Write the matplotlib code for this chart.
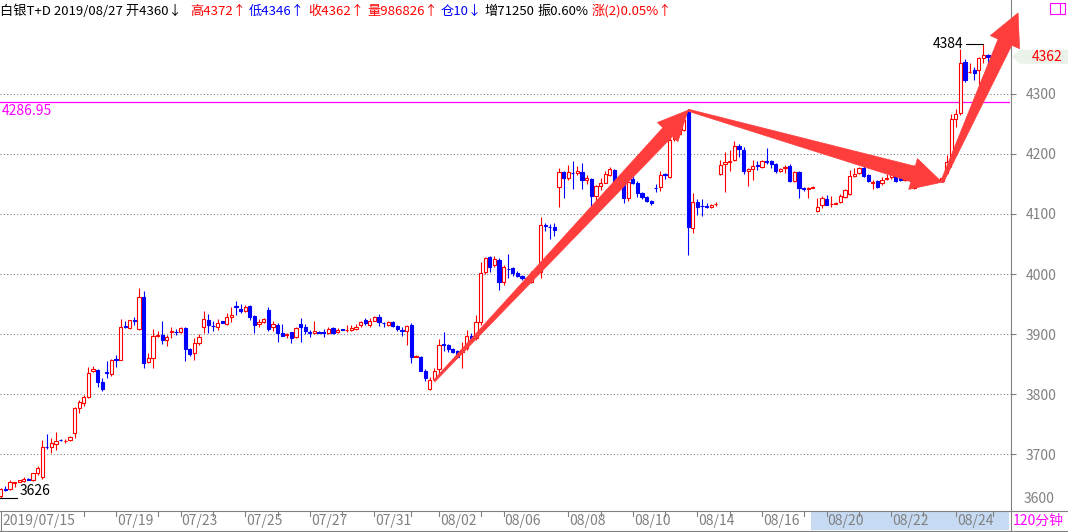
import numpy as np
import matplotlib.pyplot as plt
from matplotlib.patches import Polygon, Rectangle
from matplotlib.lines import Line2D
from matplotlib.transforms import IdentityTransform

plt.rcParams['font.family'] = ['Noto Sans CJK SC', 'DejaVu Sans']

# 120-minute bars, 白银T+D
opens = [3630, 3641, 3642, 3652, 3654, 3655, 3659, 3657, 3668, 3662,
         3712, 3712, 3717, 3724, 3721, 3723, 3735, 3777, 3785, 3795,
         3838, 3840, 3820, 3836, 3833, 3858, 3857, 3913, 3910, 3923,
         3908, 3962, 3853, 3860, 3897, 3898, 3890, 3904, 3904, 3903,
         3910, 3875, 3868, 3885, 3912, 3923, 3914, 3912, 3921, 3917,
         3928, 3946, 3941, 3938, 3947, 3930, 3917, 3920, 3940, 3912,
         3915, 3902, 3898, 3903, 3895, 3917, 3912, 3904, 3902, 3903,
         3903, 3902, 3910, 3903, 3908, 3906, 3907, 3908, 3915, 3923,
         3915, 3922, 3928, 3919, 3915, 3920, 3913, 3906, 3905, 3915,
         3862, 3862, 3838, 3808, 3825, 3842, 3883, 3882, 3875, 3872,
         3870, 3877, 3897, 3893, 3920, 4003, 4028, 4015, 4023, 3987,
         4009, 4010, 4002, 3997, 3994, 3987, 4001, 4003, 4081, 4079,
         4078, 4145, 4170, 4160, 4169, 4169, 4170, 4157, 4158, 4130,
         4147, 4152, 4165, 4173, 4155, 4152, 4127, 4158, 4152, 4135,
         4128, 4122, 4144, 4145, 4166, 4162, 4225, 4233, 4240, 4270,
         4077, 4120, 4114, 4113, 4112, 4116, 4167, 4183, 4187, 4190,
         4213, 4207, 4172, 4175, 4181, 4178, 4188, 4188, 4183, 4172,
         4177, 4180, 4155, 4170, 4143, 4142, 4144, 4105, 4115, 4125,
         4116, 4117, 4120, 4128, 4133, 4163, 4168, 4177, 4165, 4152,
         4155, 4152, 4159, 4162, 4163, 4162, 4157, 4159, 4143, 4175,
         4167, 4163, 4162, 4157, 4155, 4168, 4187, 4258, 4268, 4353,
         4336, 4340, 4340, 4360, 4365, 4360]
highs = [3643, 3646, 3657, 3654, 3657, 3661, 3660, 3669, 3680, 3723,
         3733, 3727, 3737, 3725, 3725, 3730, 3779, 3790, 3798, 3845,
         3847, 3841, 3827, 3855, 3858, 3865, 3925, 3922, 3924, 3928,
         3977, 3972, 3868, 3908, 3905, 3922, 3898, 3912, 3908, 3912,
         3911, 3876, 3893, 3900, 3938, 3933, 3922, 3925, 3922, 3935,
         3945, 3955, 3950, 3948, 3949, 3932, 3925, 3927, 3945, 3922,
         3918, 3917, 3902, 3903, 3911, 3927, 3917, 3907, 3922, 3905,
         3908, 3912, 3912, 3910, 3909, 3915, 3915, 3917, 3922, 3927,
         3927, 3930, 3933, 3920, 3921, 3921, 3915, 3912, 3915, 3918,
         3865, 3863, 3842, 3828, 3843, 3892, 3903, 3883, 3877, 3873,
         3887, 3907, 3902, 3932, 4020, 4028, 4030, 4030, 4027, 4015,
         4033, 4012, 4005, 3998, 3995, 4005, 4008, 4095, 4085, 4083,
         4085, 4177, 4172, 4182, 4188, 4180, 4185, 4165, 4160, 4148,
         4160, 4172, 4178, 4175, 4160, 4158, 4155, 4163, 4155, 4137,
         4130, 4123, 4150, 4172, 4168, 4243, 4240, 4245, 4262, 4273,
         4135, 4125, 4125, 4118, 4117, 4120, 4190, 4203, 4207, 4222,
         4217, 4212, 4177, 4190, 4188, 4190, 4210, 4190, 4185, 4177,
         4182, 4183, 4172, 4172, 4145, 4145, 4147, 4127, 4130, 4132,
         4130, 4120, 4133, 4142, 4173, 4177, 4178, 4182, 4167, 4157,
         4157, 4162, 4167, 4172, 4165, 4163, 4162, 4160, 4182, 4178,
         4168, 4165, 4163, 4158, 4162, 4198, 4267, 4275, 4375, 4358,
         4352, 4345, 4362, 4384, 4366, 4372]
lows = [3626, 3639, 3640, 3645, 3654, 3653, 3656, 3655, 3665, 3659,
        3709, 3702, 3707, 3721, 3719, 3721, 3727, 3768, 3780, 3793,
        3836, 3812, 3805, 3827, 3830, 3845, 3857, 3910, 3908, 3915,
        3907, 3843, 3852, 3843, 3895, 3883, 3880, 3893, 3898, 3902,
        3855, 3864, 3857, 3882, 3902, 3902, 3905, 3907, 3918, 3915,
        3920, 3932, 3935, 3937, 3923, 3902, 3912, 3918, 3905, 3905,
        3887, 3896, 3893, 3885, 3894, 3887, 3900, 3895, 3901, 3901,
        3895, 3900, 3900, 3902, 3906, 3903, 3905, 3906, 3912, 3915,
        3912, 3922, 3913, 3912, 3914, 3912, 3905, 3897, 3882, 3852,
        3861, 3838, 3822, 3807, 3822, 3833, 3872, 3870, 3868, 3860,
        3843, 3873, 3890, 3890, 3915, 4000, 4003, 4012, 3973, 3982,
        3993, 3997, 3995, 3990, 3991, 3985, 3998, 3993, 4072, 4058,
        4063, 4112, 4127, 4157, 4142, 4165, 4142, 4150, 4112, 4122,
        4140, 4151, 4163, 4138, 4140, 4118, 4122, 4150, 4128, 4125,
        4120, 4115, 4137, 4138, 4158, 4160, 4222, 4230, 4238, 4032,
        4068, 4098, 4097, 4110, 4110, 4113, 4165, 4137, 4172, 4188,
        4195, 4167, 4147, 4157, 4173, 4177, 4183, 4177, 4168, 4170,
        4168, 4153, 4153, 4127, 4138, 4127, 4143, 4103, 4110, 4115,
        4112, 4116, 4118, 4127, 4132, 4162, 4167, 4162, 4153, 4142,
        4143, 4148, 4157, 4158, 4153, 4155, 4155, 4155, 4142, 4165,
        4160, 4158, 4156, 4153, 4153, 4166, 4178, 4245, 4265, 4320,
        4335, 4323, 4315, 4352, 4345, 4346]
closes = [3641, 3640, 3653, 3653, 3656, 3659, 3657, 3668, 3677, 3712,
          3711, 3718, 3722, 3723, 3722, 3728, 3777, 3787, 3795, 3835,
          3841, 3820, 3808, 3835, 3857, 3857, 3912, 3912, 3923, 3922,
          3962, 3852, 3860, 3897, 3898, 3890, 3895, 3905, 3903, 3910,
          3875, 3867, 3885, 3895, 3925, 3915, 3913, 3918, 3919, 3928,
          3932, 3945, 3939, 3945, 3928, 3915, 3920, 3925, 3908, 3917,
          3902, 3897, 3900, 3893, 3910, 3912, 3905, 3902, 3905, 3902,
          3902, 3908, 3902, 3907, 3907, 3907, 3910, 3912, 3920, 3918,
          3922, 3928, 3920, 3918, 3920, 3913, 3908, 3905, 3913, 3862,
          3864, 3838, 3827, 3823, 3838, 3882, 3882, 3875, 3870, 3862,
          3873, 3897, 3892, 3920, 4002, 4027, 4012, 4025, 3987, 4012,
          4008, 4002, 3997, 3993, 3992, 4002, 4004, 4082, 4080, 4078,
          4073, 4170, 4160, 4170, 4168, 4171, 4157, 4160, 4130, 4147,
          4152, 4167, 4175, 4145, 4145, 4127, 4153, 4152, 4135, 4128,
          4122, 4118, 4143, 4165, 4165, 4223, 4235, 4240, 4257, 4078,
          4120, 4112, 4113, 4112, 4115, 4117, 4182, 4187, 4188, 4213,
          4208, 4172, 4175, 4180, 4180, 4188, 4187, 4183, 4172, 4175,
          4178, 4155, 4170, 4143, 4142, 4143, 4145, 4112, 4127, 4115,
          4117, 4119, 4130, 4140, 4163, 4167, 4177, 4163, 4155, 4153,
          4145, 4157, 4160, 4167, 4155, 4157, 4160, 4157, 4175, 4170,
          4163, 4160, 4158, 4155, 4160, 4187, 4258, 4267, 4352, 4323,
          4337, 4335, 4360, 4365, 4361, 4362]

price_ticks = [3700, 3800, 3900, 4000, 4100, 4200, 4300]
ref_line = 4286.95

first_date = '2019/07/15'
date_labels = ['07/19', '07/23', '07/25', '07/27', '07/31', '08/02', '08/06',
               '08/08', '08/10', '08/14', '08/16', '08/20', '08/22', '08/24']
date_bars = [25, 39, 53, 67, 81, 95, 109, 123, 137, 151, 165, 179, 193, 207]
day_bars = [18, 34, 46, 60, 74, 89, 104, 130, 144, 158, 174, 186, 200, 215]

swing_bars = [94, 149, 204]   # low, peak, low marked by the hand-drawn arrows
target_price = 4435

header = [
    ('白银T+D 2019/08/27 开4360↓', 'black', 0),
    ('高4372↑', 'red', 190),
    ('低4346↑', 'blue', 244),
    ('收4362↑', 'red', 299),
    ('量986826↑', 'red', 354),
    ('仓10↓', 'blue', 431),
    ('增71250', 'black', 469),
    ('振0.60%', 'black', 526),
    ('涨(2)0.05%↑', 'red', 587),
]

o = np.array(opens, float)
h = np.array(highs, float)
l = np.array(lows, float)
c = np.array(closes, float)
N = len(c)
x = np.arange(N)

W, H = 1068, 532
GRAY = '#808080'
fig = plt.figure(figsize=(W / 100, H / 100), dpi=100)
ax = fig.add_axes([0, 22 / H, 1010 / W, 490 / H])
ax.set_xlim(-0.15, N + 2.75)
ax.set_ylim(3606.7, 4423.3)
for s in ax.spines.values():
    s.set_visible(False)
ax.set_xticks([])
ax.set_yticks(price_ticks)
ax.yaxis.tick_right()
ax.tick_params(axis='y', length=4, width=0.8, color=GRAY, labelcolor=GRAY,
               labelsize=10, pad=7)
ax.grid(axis='y', color=GRAY, linestyle=(0, (1, 2)), linewidth=0.8)
ax.set_axisbelow(True)
ax.text(1024 / 1010, 0.008, '3600', transform=ax.transAxes, color=GRAY,
        fontsize=10, ha='left', va='bottom', clip_on=False)

# candles
up = c > o
cols = np.where(up, 'red', 'blue')
ax.vlines(x, l, h, colors=cols, linewidth=0.8, zorder=2)
bot = np.minimum(o, c)
hgt = np.maximum(np.abs(c - o), 0.8)
ax.bar(x[up], hgt[up], width=0.7, bottom=bot[up], facecolor='white',
       edgecolor='red', linewidth=0.8, zorder=3)
ax.bar(x[~up], hgt[~up], width=0.7, bottom=bot[~up], facecolor='blue',
       edgecolor='blue', linewidth=0.8, zorder=3)

# reference line
ax.axhline(ref_line, color='#ff00ff', linewidth=0.9, zorder=1)
ax.text(0.002, ref_line - 3, f'{ref_line:.2f}', transform=ax.get_yaxis_transform(),
        color='#ff00ff', fontsize=10, ha='left', va='top')

# max / min markers
imax = int(np.argmax(h))
imin = int(np.argmin(l))
ax.plot([imax - 3.7, imax], [h[imax], h[imax]], color='black', lw=0.8, zorder=4)
ax.text(imax - 4.4, h[imax], f'{h[imax]:.0f}', ha='right', va='center',
        fontsize=10, color='black', zorder=4)
ax.plot([imin - 0.2, imin + 3.5], [l[imin], l[imin]], color='black', lw=0.8, zorder=4)
ax.text(imin + 4.2, l[imin] + 5, f'{l[imin]:.0f}', ha='left', va='baseline',
        fontsize=10, color='black', zorder=4)

ID = IdentityTransform()


def fat_arrow(p0, p1, w0, w1, hw, hl, color='#ff3d3d'):
    a = ax.transData.transform(p0)
    b = ax.transData.transform(p1)
    d = b - a
    u = d / np.hypot(*d)
    n = np.array([-u[1], u[0]])
    base = b - u * hl
    pts = [a + n * w0 / 2, base + n * w1 / 2, base + n * hw / 2, b,
           base - n * hw / 2, base - n * w1 / 2, a - n * w0 / 2]
    fig.add_artist(Polygon(pts, closed=True, transform=ID, facecolor=color,
                           edgecolor=color, linewidth=0.5, zorder=5))


p_low = (swing_bars[0], l[swing_bars[0]])
p_peak = (swing_bars[1], h[swing_bars[1]])
p_low2 = (swing_bars[2], l[swing_bars[2]])
p_target = (N - 1 + 5.5, target_price)
fat_arrow(p_low, p_peak, 2, 13, 28, 30)
fat_arrow(p_peak, p_low2, 2, 16, 32, 30)
fat_arrow(p_low2, p_target, 3, 15, 32, 32)

# last price tag on the right axis
yl = ax.transData.transform((0, c[-1]))[1]
fig.add_artist(Polygon([(1012, yl), (1020, yl + 7), (1068, yl + 7), (1068, yl - 7),
                        (1020, yl - 7)], closed=True, transform=ID,
                       facecolor='#eaf2ea', edgecolor='none', zorder=2))
fig.text(1063, yl, f'{c[-1]:.0f}', transform=ID, color='red', fontsize=10,
         ha='right', va='center', zorder=3)

# frame lines
for yy in (510.5, 530.5):
    fig.add_artist(Line2D([0, W], [H - yy, H - yy], transform=ID, color=GRAY, lw=0.8))
fig.add_artist(Line2D([1010.5, 1010.5], [0, H], transform=ID, color=GRAY, lw=0.8))
fig.add_artist(Line2D([0.5, 0.5], [H - 530.5, H - 510.5], transform=ID, color=GRAY, lw=0.8))

# date strip
fig.add_artist(Rectangle((811, H - 530), 198, 18, transform=ID,
                         facecolor='#c6dbf3', edgecolor='none', zorder=0.5))
fig.text(2, H - 521, first_date, transform=ID, color=GRAY, fontsize=10,
         ha='left', va='center')
for b in day_bars + date_bars:
    xp = ax.transData.transform((b, 0))[0]
    fig.add_artist(Line2D([xp, xp], [H - 511, H - 516], transform=ID, color=GRAY, lw=0.8))
for b, lab in zip(date_bars, date_labels):
    xp = ax.transData.transform((b, 0))[0]
    fig.text(xp + 1, H - 521, lab, transform=ID, color=GRAY, fontsize=10,
             ha='left', va='center')
fig.text(1013, H - 521, '120分钟', transform=ID, color='#ff00ff', fontsize=10,
         ha='left', va='center')

# header line, laid out left to right so pieces never collide
renderer = fig.canvas.get_renderer()
prev_end = -10
for txt, col, xp in header:
    xp = max(xp, prev_end + 3)
    t = fig.text(xp, H - 11, txt, transform=ID, color=col, fontsize=9.5,
                 ha='left', va='center')
    prev_end = t.get_window_extent(renderer).x1

# small window box top right
fig.add_artist(Rectangle((1050, H - 14), 15, 11, transform=ID, fill=False,
                         edgecolor='#ff00ff', lw=0.8))
fig.add_artist(Line2D([1060, 1060], [H - 14, H - 3], transform=ID, color='#ff00ff', lw=0.8))

fig.savefig('out.png', dpi=100, facecolor='white')
